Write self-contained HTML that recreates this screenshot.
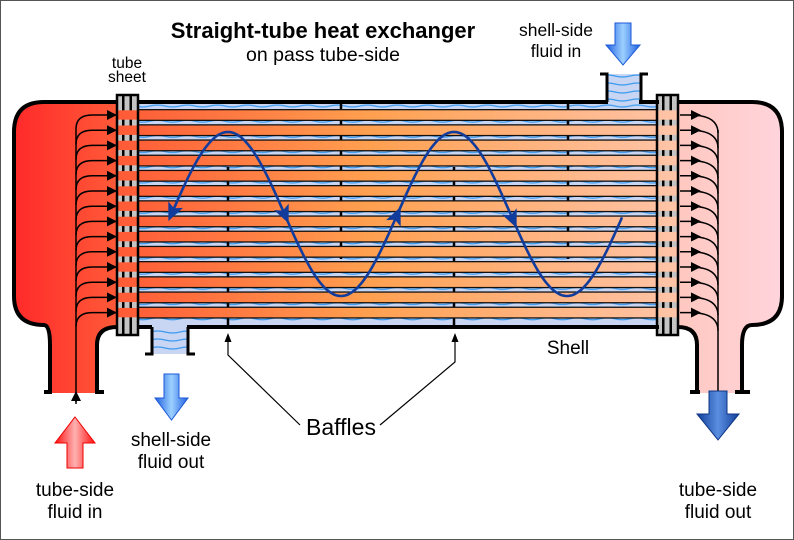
<!DOCTYPE html>
<html><head><meta charset="utf-8"><style>
html,body{margin:0;padding:0;background:#fff}
svg{display:block}
text{font-family:"Liberation Sans",Arial,sans-serif;fill:#000}
</style></head><body>
<svg id="s" width="794" height="540" viewBox="0 0 794 540" xmlns="http://www.w3.org/2000/svg">
<defs>
<linearGradient id="lh" x1="0" x2="1" y1="0" y2="0"><stop offset="0" stop-color="#ff2a2a"/><stop offset="1" stop-color="#ff5a38"/></linearGradient>
<linearGradient id="rh" x1="0" x2="1" y1="0" y2="0"><stop offset="0" stop-color="#ffc8c0"/><stop offset="1" stop-color="#ffd4dc"/></linearGradient>
<linearGradient id="tg" gradientUnits="userSpaceOnUse" x1="117" x2="678" y1="0" y2="0"><stop offset="0" stop-color="#ff5a36"/><stop offset="0.45" stop-color="#ffa050"/><stop offset="1" stop-color="#ffc4a8"/></linearGradient>
<pattern id="wv" patternUnits="userSpaceOnUse" x="0" y="98.4" width="30" height="15.2">
<rect width="30" height="15.2" fill="#c8d6f4"/>
<path d="M0,7.6 Q7.5,5.6 15,7.6 T30,7.6" fill="none" stroke="#3a9af0" stroke-width="1.2"/>
</pattern>
<pattern id="wv2" patternUnits="userSpaceOnUse" x="0" y="0" width="30" height="8">
<rect width="30" height="8" fill="#c8d6f4"/>
<path d="M0,4 Q7.5,2 15,4 T30,4" fill="none" stroke="#3a9af0" stroke-width="1.2"/>
</pattern>
<linearGradient id="bl" x1="0" x2="1"><stop offset="0" stop-color="#1f5fe0"/><stop offset="0.5" stop-color="#9cd0ff"/><stop offset="1" stop-color="#1f5fe0"/></linearGradient>
<linearGradient id="db" x1="0" x2="1"><stop offset="0" stop-color="#123f9a"/><stop offset="0.5" stop-color="#5a8ee0"/><stop offset="1" stop-color="#123f9a"/></linearGradient>
<linearGradient id="rd" x1="0" x2="1"><stop offset="0" stop-color="#ff1010"/><stop offset="0.5" stop-color="#ffb0b0"/><stop offset="1" stop-color="#ff1010"/></linearGradient>
<marker id="ah" markerWidth="10" markerHeight="10" refX="9" refY="5" orient="auto" markerUnits="userSpaceOnUse"><path d="M0,0 L10,5 L0,10 Z" fill="#000"/></marker>
</defs>
<rect x="0.5" y="0.5" width="793" height="539" fill="#fff" stroke="#555"/>

<path d="M117,102 H44 Q14,102 14,132 V296 Q14,325 44,325 Q50,325 50,345 V393 H97 V345 Q97,327 117,327 Z" fill="url(#lh)"/>
<path d="M117,102 H44 Q14,102 14,132 V296 Q14,325 44,325 Q50,325 50,345 V392 M44,392 H52 M117,327 Q97,327 97,345 V392 M95,392 H104" fill="none" stroke="#000" stroke-width="4"/>
<path d="M678,102 H752 Q782,102 782,132 V296 Q782,325 752,325 Q742,325 742,345 V393 H697 V345 Q697,327 678,327 Z" fill="url(#rh)"/>
<path d="M678,102 H752 Q782,102 782,132 V296 Q782,325 752,325 Q742,325 742,345 V392 M735,392 H750 M678,327 Q697,327 697,345 V392 M690,392 H700" fill="none" stroke="#000" stroke-width="4"/>

<rect x="607" y="74" width="34" height="30" fill="url(#wv2)"/>
<path d="M600,74 H607 V102 M641,102 V74 H648" fill="none" stroke="#000" stroke-width="3"/>
<rect x="151" y="324" width="37" height="30" fill="url(#wv2)"/>
<path d="M145,354 H152 V327 M188,327 V354 H195" fill="none" stroke="#000" stroke-width="3"/>

<rect x="117" y="102" width="561" height="225" fill="url(#wv)"/>
<g stroke="#000" stroke-width="2.5">
<line x1="228" y1="167" x2="228" y2="326"/>
<line x1="341" y1="103" x2="341" y2="259"/>
<line x1="454" y1="167" x2="454" y2="326"/>
<line x1="568" y1="103" x2="568" y2="259"/>
</g>
<g id="sheets"></g>
<g id="tubes"></g>
<rect x="138" y="100" width="470" height="4" fill="#000"/>
<rect x="639" y="100" width="20" height="4" fill="#000"/>
<rect x="138" y="325" width="14" height="4" fill="#000"/>
<rect x="187" y="325" width="472" height="4" fill="#000"/>
<g id="sheetb" fill="none" stroke="#000" stroke-width="2.5">
<rect x="117" y="95" width="21" height="240"/>
<rect x="657" y="95" width="21" height="240"/>
</g>

<g id="flow" fill="none" stroke="#000" stroke-width="1.5"></g>

<path id="sine" fill="none" stroke="#123c9c" stroke-width="2.6"/>
<g id="sheads" fill="#123c9c"></g>

<g fill="none" stroke="#000" stroke-width="1.2">
<path d="M228,336 V355 L300,425"/>
<path d="M455,336 V362 L380,425"/>
</g>
<path d="M224.5,342 L228,333 L231.5,342 Z M451.5,342 L455,333 L458.5,342 Z" fill="#000"/>

<path d="M75,417 L95,443 H83 V468 H67 V443 H55 Z" fill="url(#rd)" stroke="#e00" stroke-width="1"/>
<path d="M164,374 H179 V398 H188 L171.5,420 L155,398 H164 Z" fill="url(#bl)" stroke="#1d5ad8" stroke-width="1"/>
<path d="M615,23 H631 V45 H640 L623,65 L606,45 H615 Z" fill="url(#bl)" stroke="#1d5ad8" stroke-width="1"/>
<path d="M709,391 H727 V414 H739 L718,440 L697,414 H709 Z" fill="url(#db)" stroke="#0f3585" stroke-width="1"/>

<text x="323" y="38" font-size="22" font-weight="bold" text-anchor="middle">Straight-tube heat exchanger</text>
<text x="323" y="61" font-size="19.5" text-anchor="middle">on pass tube-side</text>
<text x="127" y="68" font-size="15.5" text-anchor="middle">tube</text>
<text x="127" y="82" font-size="15.5" text-anchor="middle">sheet</text>
<text x="556" y="36" font-size="17.5" text-anchor="middle">shell-side</text>
<text x="556" y="57" font-size="17.5" text-anchor="middle">fluid in</text>
<text x="568" y="354" font-size="19" text-anchor="middle">Shell</text>
<text x="341" y="435" font-size="23" text-anchor="middle">Baffles</text>
<text x="171" y="446" font-size="19" text-anchor="middle">shell-side</text>
<text x="171" y="468" font-size="19" text-anchor="middle">fluid out</text>
<text x="75" y="496" font-size="19" text-anchor="middle">tube-side</text>
<text x="75" y="518" font-size="19" text-anchor="middle">fluid in</text>
<text x="718" y="496" font-size="19" text-anchor="middle">tube-side</text>
<text x="718" y="518" font-size="19" text-anchor="middle">fluid out</text>
</svg>
<script>
var NS="http://www.w3.org/2000/svg";
function el(p,t,a){var e=document.createElementNS(NS,t);for(var k in a)e.setAttribute(k,a[k]);p.appendChild(e);return e;}
var tubes=document.getElementById('tubes'),sheets=document.getElementById('sheets'),flow=document.getElementById('flow');
var ys=[];for(var k=0;k<14;k++)ys.push(110+15.2*k);
[[117,138],[657,678]].forEach(function(s){
 el(sheets,'rect',{x:s[0],y:95,width:s[1]-s[0],height:240,fill:'#c4c4c4'});
 el(sheets,'rect',{x:s[0]+5,y:96,width:2.5,height:238,fill:'#000'});
 el(sheets,'rect',{x:s[0]+12.5,y:96,width:2.5,height:238,fill:'#000'});
});
ys.forEach(function(y){
 el(tubes,'rect',{x:138,y:y-1,width:519,height:12,fill:'#111'});
 el(tubes,'rect',{x:117,y:y+0.3,width:561,height:9.4,fill:'url(#tg)'});
 var c=y+5;
 el(flow,'path',{d:'M76,'+(c+14)+' Q76,'+c+' 92,'+c+' H116','marker-end':'url(#ah)'});
 el(flow,'path',{d:'M680,'+c+' H700','marker-end':'url(#ah)'});
 el(flow,'path',{d:'M690,'+c+' Q718,'+c+' 718,'+(c+18)});
});
el(flow,'path',{d:'M76,402 V'+(ys[0]+19)});
el(flow,'path',{d:'M76,404 V392','marker-end':'url(#ah)'});
el(flow,'path',{d:'M718,'+(ys[0]+20)+' V408','marker-end':'url(#ah)'});
var d='';for(var x=170;x<=623;x+=2){var y=214-82*Math.cos(2*Math.PI*(x-228)/226);d+=(d?' L':'M')+x+','+y.toFixed(1);}
document.getElementById('sine').setAttribute('d',d);
var sh=document.getElementById('sheads');
function head(x,dir){var y=214-82*Math.cos(2*Math.PI*(x-228)/226);var sl=82*2*Math.PI/226*Math.sin(2*Math.PI*(x-228)/226);var a=Math.atan2(sl*dir,dir);
 el(sh,'path',{d:'M9,0 L-9,-8 L-5,0 L-9,8 Z',transform:'translate('+x+','+y+') rotate('+(a*180/Math.PI)+')'});}
head(172,-1);head(285,1);head(397,1);head(513,1);
</script>
</body></html>
